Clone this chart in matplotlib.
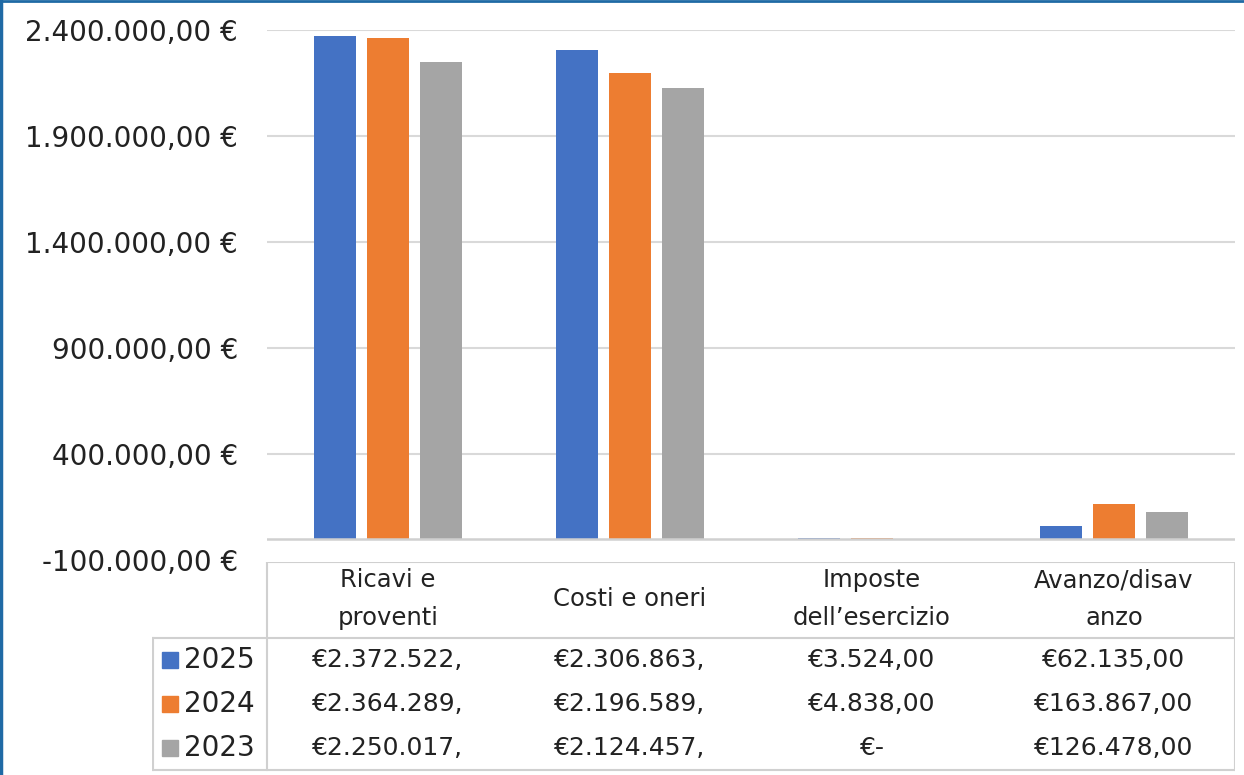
import numpy as np
import matplotlib.pyplot as plt
from matplotlib.ticker import FuncFormatter

plt.rcParams['font.family'] = ['DejaVu Sans']

categories = ['Ricavi e\nproventi', 'Costi e oneri', 'Imposte\ndell\u2019esercizio', 'Avanzo/disav\nanzo']
years = ['2025', '2024', '2023']
v2025 = [2372522, 2306863, 3524, 62135]
v2024 = [2364289, 2196589, 4838, 163867]
v2023 = [2250017, 2124457, 0, 126478]
table_text = [
    ['\u20ac2.372.522,', '\u20ac2.306.863,', '\u20ac3.524,00', '\u20ac62.135,00'],
    ['\u20ac2.364.289,', '\u20ac2.196.589,', '\u20ac4.838,00', '\u20ac163.867,00'],
    ['\u20ac2.250.017,', '\u20ac2.124.457,', '\u20ac-', '\u20ac126.478,00'],
]
colors = ['#4472c4', '#ed7d31', '#a5a5a5']
yticks = [-100000, 400000, 900000, 1400000, 1900000, 2400000]

W, H = 1244, 775
fig = plt.figure(figsize=(W / 100, H / 100), dpi=100)

def px_axes(x0, y0, x1, y1):
    return fig.add_axes([x0 / W, 1 - y1 / H, (x1 - x0) / W, (y1 - y0) / H])

# bar chart area
ax = px_axes(267, 30, 1235, 560)
x = np.arange(len(categories))
bw = 0.175
step = 0.218
for i, vals in enumerate([v2025, v2024, v2023]):
    ax.bar(x + (i - 1) * step, vals, width=bw, color=colors[i], zorder=3)
ax.set_xlim(-0.5, len(categories) - 0.5)
ax.set_ylim(-100000, 2400000)
ax.set_yticks(yticks)
ax.yaxis.set_major_formatter(FuncFormatter(
    lambda v, p: f'{v:,.2f}'.replace(',', 'X').replace('.', ',').replace('X', '.') + ' \u20ac'))
ax.tick_params(axis='y', length=0, labelsize=20, pad=21, colors='#222222')
ax.set_xticks([])
for g in yticks[1:]:
    ax.axhline(g, color='#d9d9d9', lw=1.5, zorder=1)
ax.axhline(0, color='#d0d0d0', lw=1.8, zorder=4)
for s in ax.spines.values():
    s.set_visible(False)

# data table below the chart
tx = px_axes(152, 562, 1235, 772)
tx.set_xlim(152, 1235)
tx.set_ylim(772, 562)
tx.axis('off')
lc = '#d0d0d0'
cols = np.linspace(267, 1235, len(categories) + 1)
rows = [562, 638, 682, 726, 770]
tx.plot([267, 1235], [562, 562], color=lc, lw=1.5)
tx.plot([267, 267], [562, 770], color=lc, lw=1.5)
tx.plot([1235, 1235], [562, 770], color=lc, lw=1.5)
tx.plot([153, 1235], [638, 638], color=lc, lw=1.5)
tx.plot([153, 153], [638, 770], color=lc, lw=1.5)
tx.plot([153, 1235], [770, 770], color=lc, lw=1.5)
for j, cat in enumerate(categories):
    tx.text((cols[j] + cols[j + 1]) / 2, 599, cat, ha='center', va='center',
            fontsize=17.5, color='#222222', linespacing=1.7)
for i, yr in enumerate(years):
    yc = (rows[i + 1] + rows[i + 2]) / 2
    tx.add_patch(plt.Rectangle((162, yc - 8), 16, 16, color=colors[i]))
    tx.text(184, yc, yr, ha='left', va='center', fontsize=20, color='#222222')
    for j in range(len(categories)):
        tx.text((cols[j] + cols[j + 1]) / 2, yc, table_text[i][j], ha='center',
                va='center', fontsize=18, color='#222222')

# frame around the picture
fig.add_artist(plt.Line2D([0, 1], [0.9985, 0.9985], color='#1f6aa5', lw=2, transform=fig.transFigure))
fig.add_artist(plt.Line2D([0.001, 0.001], [0, 1], color='#1f6aa5', lw=2.5, transform=fig.transFigure))

fig.savefig('out.png', dpi=100, facecolor='white')
